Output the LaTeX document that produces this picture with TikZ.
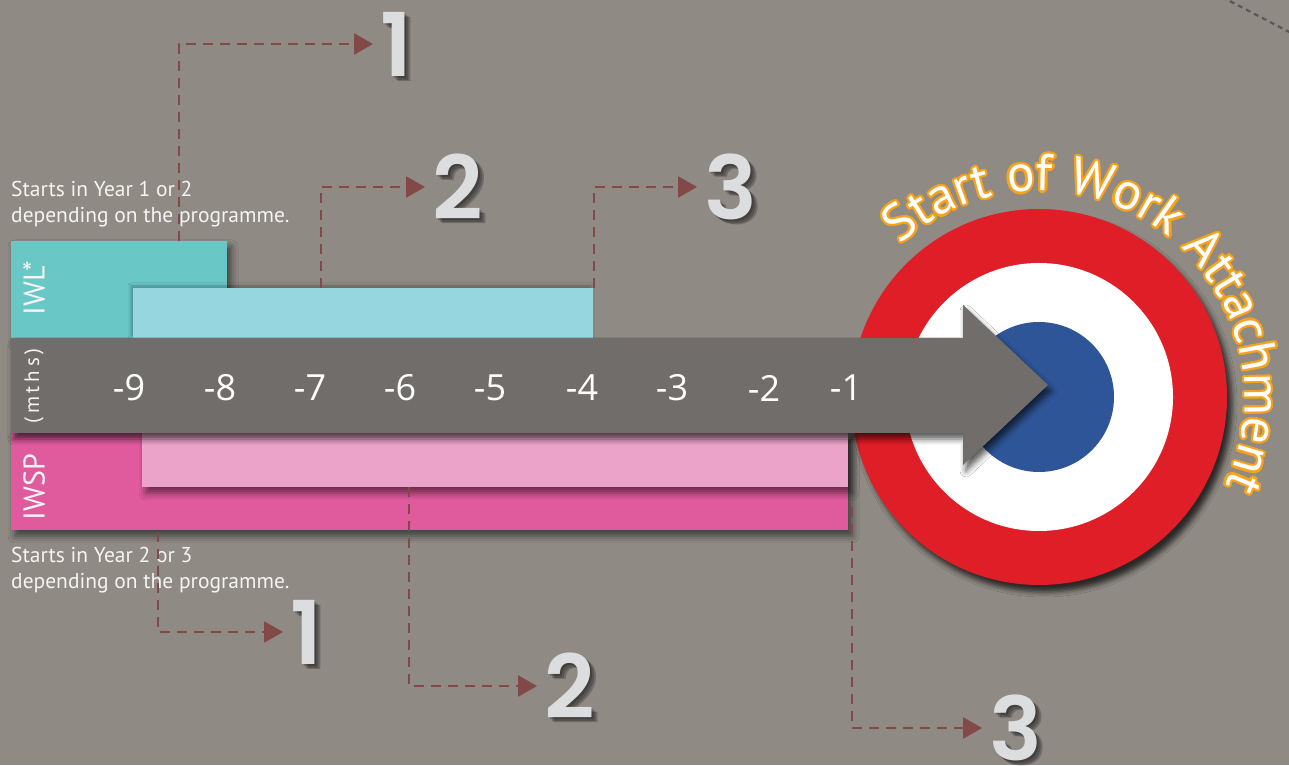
\documentclass[tikz,border=0pt]{standalone}
\usepackage{fontspec}
\setmainfont{PT Sans}
\newfontfamily\numfont{Poppins SemiBold}
\newfontfamily\axisfont{Open Sans}
\newfontfamily\arcfont[LetterSpace=2]{PT Sans}
\usetikzlibrary{arrows.meta,shadows.blur,decorations.text}
\definecolor{bg}{HTML}{8F8A84}
\definecolor{tealbox}{HTML}{69C7C6}
\definecolor{cyanbox}{HTML}{95D6DF}
\definecolor{arrowgrey}{HTML}{716D6B}
\definecolor{pinkbox}{HTML}{E05A9E}
\definecolor{pinklight}{HTML}{ECA3C9}
\definecolor{tred}{HTML}{E01E27}
\definecolor{tblue}{HTML}{2E5597}
\definecolor{conncol}{HTML}{834948}
\definecolor{numcol}{HTML}{DCDDDF}
\definecolor{arcorange}{HTML}{F6A31B}
\definecolor{notecol}{HTML}{F4F4F4}
\begin{document}
\begin{tikzpicture}[x=1pt,y=1pt,
  shad/.style={blur shadow={shadow xshift=4pt,shadow yshift=-6pt,shadow blur radius=7pt,shadow opacity=55}},
  box/.style={inner sep=0pt,outer sep=0pt,draw=none},
  conn/.style={draw=conncol,line width=2.6pt,dash pattern=on 10pt off 7pt,-{Triangle[length=19pt,width=21pt]}},
  bignum/.style={font=\numfont\fontsize{88}{88}\selectfont,text=numcol,anchor=west,inner xsep=7pt,inner ysep=0pt},
  numshade/.style={font=\numfont\fontsize{88}{88}\selectfont,text=black,opacity=0.22,anchor=west,inner xsep=7pt,inner ysep=0pt},
  axisnum/.style={font=\axisfont\fontsize{36}{36}\selectfont,text=white,inner sep=0pt},
  note/.style={font=\fontsize{21.5}{21.5}\selectfont,text=notecol,anchor=base west,inner sep=0pt},
  sidelab/.style={font=\fontsize{30}{30}\selectfont,text=notecol,rotate=90,inner sep=0pt},
  arctext/.style={decorate,decoration={text along path,text align=center,text color=#1,
     text={|\arcfont\fontsize{52}{52}\selectfont|Start of Work Attachment}}}
]
\fill[bg] (0,0) rectangle (1289,765);
\useasboundingbox (0,0) rectangle (1289,765);
\clip (0,0) rectangle (1289,765);

% dashed line top right
\coordinate (d1) at (1222,768);
\coordinate (d2) at (1295,730);
\draw[black!65,line width=2.2pt,dash pattern=on 5pt off 4pt] (d1) -- (d2);

% target
\node[circle,fill=tred,minimum size=376pt,inner sep=0pt,blur shadow={shadow xshift=5pt,shadow yshift=-7pt,shadow blur radius=5pt,shadow opacity=70}] (ring) at (1039,368) {};
\node[circle,fill=white,minimum size=268pt,inner sep=0pt] (whitering) at (1039,368) {};
\node[circle,fill=tblue,minimum size=150pt,inner sep=0pt] (bull) at (1039,368) {};

% arc text with outline
\foreach \a in {0,30,...,330}{
  \path[shift={(\a:2.2)},arctext=arcorange] (1039,368) ++(145:206) arc[start angle=145,end angle=-38,radius=206];
}
\path[arctext=white] (1039,368) ++(145:206) arc[start angle=145,end angle=-38,radius=206];

% IWL boxes
\node[box,fill=tealbox,minimum width=216pt,minimum height=97pt,anchor=south west,shad] (iwl) at (11,427) {};
\node[box,fill=cyanbox,minimum width=460pt,minimum height=50pt,anchor=south west,blur shadow={shadow xshift=-2pt,shadow yshift=2pt,shadow blur radius=3pt,shadow opacity=30}] (iwlbar) at (133,427) {};

% IWSP boxes
\node[box,fill=pinkbox,minimum width=837pt,minimum height=97pt,anchor=north west,shad] (iwsp) at (11,332) {};
\node[box,fill=pinklight,minimum width=706pt,minimum height=54pt,anchor=north west,shad] (iwspbar) at (142,332) {};

% timeline arrow
\fill[arrowgrey,blur shadow={shadow xshift=3pt,shadow yshift=-6pt,shadow blur radius=6pt,shadow opacity=65}]
  (11,427) -- (963,427) -- (963,460) -- (1048,380) -- (963,300) -- (963,332) -- (11,332) -- cycle;

% side labels
\node[sidelab] (lwl) at (34,477) {IWL*};
\node[sidelab] (lsp) at (34,278) {IWSP};
\node[sidelab,font=\fontsize{21}{21}\selectfont\addfontfeatures{LetterSpace=18}] (lm) at (34,379) {(mths)};

% axis numbers
\node[axisnum] (m9) at (129,377) {-9};
\node[axisnum] (m8) at (220,377) {-8};
\node[axisnum] (m7) at (310,377) {-7};
\node[axisnum] (m6) at (400,377) {-6};
\node[axisnum] (m5) at (490,377) {-5};
\node[axisnum] (m4) at (582,377) {-4};
\node[axisnum] (m3) at (672,377) {-3};
\node[axisnum] (m2) at (764,377) {-2};
\node[axisnum] (m1) at (846,377) {-1};

% notes
\node[note] (na1) at (11,568) {Starts in Year 1 or 2};
\node[note] (na2) at (11,542) {depending on the programme.};
\node[note] (nb1) at (11,202) {Starts in Year 2 or 3};
\node[note] (nb2) at (11,176) {depending on the programme.};

% big numbers (shadows then numbers)
\foreach \dx/\dy in {2/-2,4/-4,6/-5}{
  \node[numshade] at (373+\dx,721+\dy) {1};
  \node[numshade] at (425+\dx,578+\dy) {2};
  \node[numshade] at (697+\dx,578+\dy) {3};
  \node[numshade] at (283+\dx,133+\dy) {1};
  \node[numshade] at (537+\dx,79+\dy) {2};
  \node[numshade] at (982+\dx,37+\dy) {3};
}
\node[bignum] (t1) at (373,721) {1};
\node[bignum] (t2) at (425,578) {2};
\node[bignum] (t3) at (697,578) {3};
\node[bignum] (u1) at (283,133) {1};
\node[bignum] (u2) at (537,79) {2};
\node[bignum] (u3) at (982,37) {3};

% connectors
\coordinate (a1) at (179,524);
\coordinate (a2) at (321,477);
\coordinate (a3) at (594,477);
\coordinate (b1) at (158,233);
\coordinate (b2) at (409,278);
\coordinate (b3) at (852,258);
\draw[conn] (a1) |- (t1.west);
\draw[conn] (a2) |- (t2.west);
\draw[conn] (a3) |- (t3.west);
\draw[conn] (b1) |- (u1.west);
\draw[conn] (b2) |- (u2.west);
\draw[conn] (b3) |- (u3.west);
\end{tikzpicture}
\end{document}
